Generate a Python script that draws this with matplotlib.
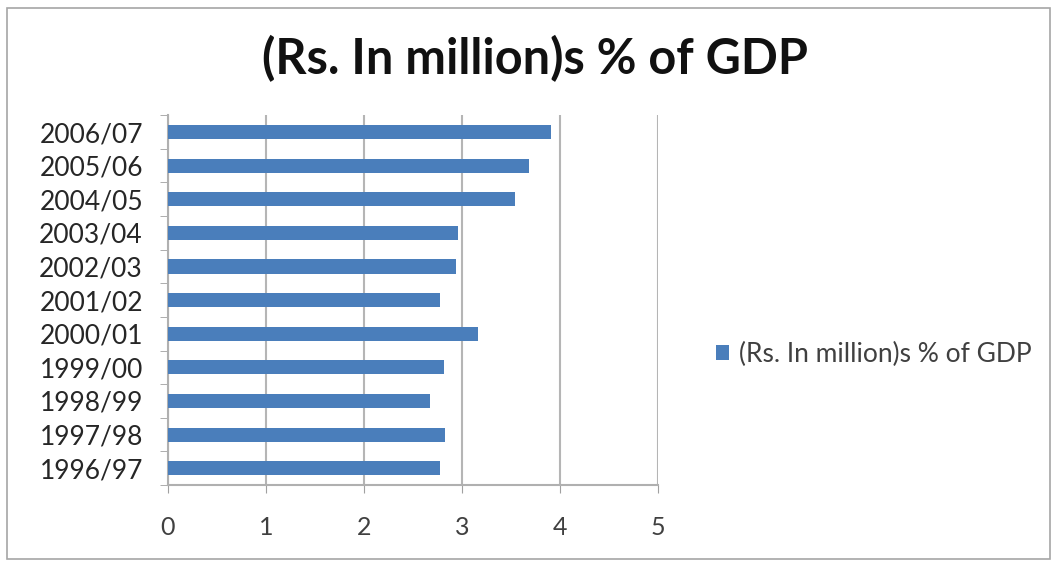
import matplotlib
matplotlib.use("Agg")
import matplotlib.pyplot as plt
from matplotlib.patches import Rectangle

years = ["1996/97", "1997/98", "1998/99", "1999/00", "2000/01", "2001/02",
         "2002/03", "2003/04", "2004/05", "2005/06", "2006/07"]
pct_gdp = [2.77, 2.83, 2.67, 2.82, 3.16, 2.78, 2.94, 2.96, 3.54, 3.68, 3.91]
series_name = "(Rs. In million)s % of GDP"
xticks = [0, 1, 2, 3, 4, 5]

plt.rcParams["font.family"] = ["Lato", "DejaVu Sans"]

fig = plt.figure(figsize=(10.53, 5.62), dpi=100)
fig.patch.set_facecolor("white")
fig.add_artist(Rectangle((0.007, 0.005), 0.99, 0.98, transform=fig.transFigure,
                         fill=False, edgecolor="#a6a6a6", linewidth=1.2))

ax = fig.add_axes([0.1595, 0.137, 0.4655, 0.658])
pos = list(range(len(years)))
ax.barh(pos, pct_gdp, height=0.42, color="#4a7ebb", label=series_name, zorder=3)
ax.set_ylim(-0.5, len(years) - 0.5)
ax.set_xlim(0, 5)
ax.set_xticks(xticks)
ax.set_xticklabels([str(t) for t in xticks], fontsize=18, color="#404040")
ax.set_yticks(pos)
ax.set_yticklabels(years, fontsize=19, color="#262626")
ax.set_yticks([p - 0.5 for p in pos] + [len(years) - 0.5], minor=True)
ax.tick_params(axis="y", which="major", length=0, pad=18)
ax.tick_params(axis="y", which="minor", length=6, color="#a0a0a0")
ax.tick_params(axis="x", length=6, color="#a0a0a0", pad=16)
ax.grid(axis="x", color="#b5b5b5", linewidth=1.5, zorder=0)
for side in ("top", "right"):
    ax.spines[side].set_visible(False)
for side in ("left", "bottom"):
    ax.spines[side].set_color("#b0b0b0")
    ax.spines[side].set_linewidth(1.5)

fig.text(0.508, 0.895, series_name, ha="center", va="center", fontsize=35,
         fontweight="bold", color="#111111")

fig.legend(loc="center left", bbox_to_anchor=(0.657, 0.37), frameon=False,
           fontsize=19, handlelength=0.5, handleheight=0.5, handletextpad=0.4,
           labelcolor="#404040")

fig.savefig("out.png", dpi=100)
